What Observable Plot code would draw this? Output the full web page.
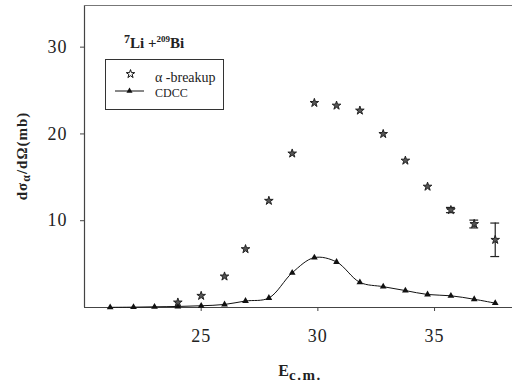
<!DOCTYPE html>
<html>
<head>
<meta charset="utf-8">
<script src="https://cdn.jsdelivr.net/npm/d3@7"></script>
<script src="https://cdn.jsdelivr.net/npm/@observablehq/plot@0.6"></script>
<style>
  body { margin: 0; background: #fff; }
  #wrap { position: relative; width: 512px; height: 388px; }
  #wrap svg { font-family: "Liberation Serif", "Times New Roman", Times, serif; }
  #wrap svg text { font-family: "Liberation Serif", "Times New Roman", Times, serif; }
  #wrap svg.overlay { position: absolute; left: 0; top: 0; pointer-events: none; }
  #wrap g[aria-label="x-axis tick label"] text,
  #wrap g[aria-label="y-axis tick label"] text { letter-spacing: 1px; }
</style>
</head>
<body>
<div id="wrap"></div>
<script>
// CDCC calculation (line with triangles)
const cdccEnergy = [21.1, 22.1, 23.0, 24.0, 25.0, 26.0, 26.9, 27.9, 28.9, 29.85, 30.8, 31.8, 32.8, 33.75, 34.7, 35.7, 36.7, 37.6];
const cdccValues = [0.02, 0.04, 0.08, 0.12, 0.2, 0.35, 0.75, 1.1, 4.0, 5.75, 5.25, 2.9, 2.4, 1.95, 1.5, 1.35, 0.95, 0.5];
// alpha-breakup measurements (stars) with errors
const breakupEnergy = [24.0, 25.0, 26.0, 26.9, 27.9, 28.9, 29.85, 30.8, 31.8, 32.8, 33.75, 34.7, 35.7, 36.7, 37.6];
const breakupValues = [0.58, 1.35, 3.58, 6.73, 12.3, 17.75, 23.58, 23.27, 22.7, 20.0, 16.93, 13.93, 11.23, 9.62, 7.8];
const breakupErrors = [0, 0, 0, 0, 0, 0, 0, 0, 0, 0, 0, 0, 0.3, 0.45, 1.93];
const xTicks = [25, 30, 35];
const yTicks = [10, 20, 30];
const xDomain = [20, 38.34];
const yDomain = [0, 34.8];

const cdcc = cdccEnergy.map((e, i) => ({x: e, y: cdccValues[i]}));
const breakup = breakupEnergy.map((e, i) => ({x: e, y: breakupValues[i], err: breakupErrors[i]}));
const errs = breakup.filter(d => d.err > 0);
const capHalf = 0.19;

const serif = '"Liberation Serif", "Times New Roman", Times, serif';
const axisColor = "#444";
const chart = Plot.plot({
  width: 512, height: 388,
  marginLeft: 84, marginRight: 0, marginTop: 5, marginBottom: 81,
  x: {domain: xDomain},
  y: {domain: yDomain},
  style: {fontSize: "18px", color: "#222", background: "#fff"},
  marks: [
    Plot.axisX({ticks: xTicks, tickSize: 4, tickPadding: 18, label: null, stroke: axisColor, fill: "#222"}),
    Plot.axisY({ticks: yTicks, tickSize: 4, tickPadding: 13, label: null, stroke: axisColor, fill: "#222"}),
    Plot.ruleX([xDomain[0]], {stroke: axisColor, strokeWidth: 1.2}),
    Plot.ruleY([yDomain[0]], {stroke: axisColor, strokeWidth: 1.2}),
    Plot.ruleY([yDomain[1]], {stroke: "#777", strokeWidth: 1.2}),
    Plot.line(cdcc, {x: "x", y: "y", curve: "catmull-rom", stroke: "#111", strokeWidth: 1}),
    Plot.dot(cdcc, {x: "x", y: "y", symbol: "triangle", r: 2.5, fill: "#111", stroke: "none"}),
    Plot.ruleX(errs, {x: "x", y1: d => d.y - d.err, y2: d => d.y + d.err, stroke: "#222", strokeWidth: 1.2}),
    Plot.ruleY(errs, {y: d => d.y - d.err, x1: d => d.x - capHalf, x2: d => d.x + capHalf, stroke: "#222", strokeWidth: 1.2}),
    Plot.ruleY(errs, {y: d => d.y + d.err, x1: d => d.x - capHalf, x2: d => d.x + capHalf, stroke: "#222", strokeWidth: 1.2}),
    Plot.dot(breakup, {x: "x", y: "y", symbol: "star", r: 2.7, fill: "#555", stroke: "#222", strokeWidth: 1})
  ]
});
const wrap = document.getElementById("wrap");
wrap.appendChild(chart);

// overlay: title, legend, axis labels
const ov = d3.select(wrap).append("svg").attr("class", "overlay")
  .attr("width", 512).attr("height", 388)
  .style("fill", "#222");

// reaction title
const t = ov.append("text").attr("x", 124).attr("y", 48).style("font-weight", "bold");
t.append("tspan").attr("dy", -5).style("font-size", "12px").text("7");
t.append("tspan").attr("dy", 5).style("font-size", "15px").text("Li +");
t.append("tspan").attr("dy", -6).style("font-size", "9px").text("209");
t.append("tspan").attr("dy", 6).style("font-size", "15px").text("Bi");

// legend
ov.append("rect").attr("x", 105.5).attr("y", 59.5).attr("width", 118).attr("height", 50)
  .attr("fill", "none").attr("stroke", "#333").attr("stroke-width", 1);
ov.append("path").attr("d", d3.symbol(d3.symbolStar, 22)())
  .attr("transform", "translate(130.5,74)").attr("fill", "#fff").attr("stroke", "#111").attr("stroke-width", 1);
ov.append("text").attr("x", 155).attr("y", 82).style("font-size", "14px").text("α -breakup");
ov.append("line").attr("x1", 115).attr("x2", 144).attr("y1", 91).attr("y2", 91).attr("stroke", "#111");
ov.append("path").attr("d", d3.symbol(d3.symbolTriangle, 16)())
  .attr("transform", "translate(129.5,91)").attr("fill", "#111");
ov.append("text").attr("x", 155).attr("y", 96.5).style("font-size", "12px").text("CDCC");

// x label
const xl = ov.append("text").attr("x", 300).attr("y", 376).attr("text-anchor", "middle").style("font-weight", "bold");
xl.append("tspan").style("font-size", "16px").text("E");
xl.append("tspan").attr("dy", 4).style("font-size", "15px").style("letter-spacing", "1.5px").text("c.m.");

// y label
const yl = ov.append("text").attr("transform", "translate(27,156) rotate(-90)").attr("text-anchor", "middle")
  .style("font-weight", "bold").style("font-size", "15px").style("letter-spacing", "1px");
yl.append("tspan").text("dσ");
yl.append("tspan").attr("dy", 3).style("font-size", "12px").text("α");
yl.append("tspan").attr("dy", -3).text("/dΩ(mb)");
</script>
</body>
</html>
